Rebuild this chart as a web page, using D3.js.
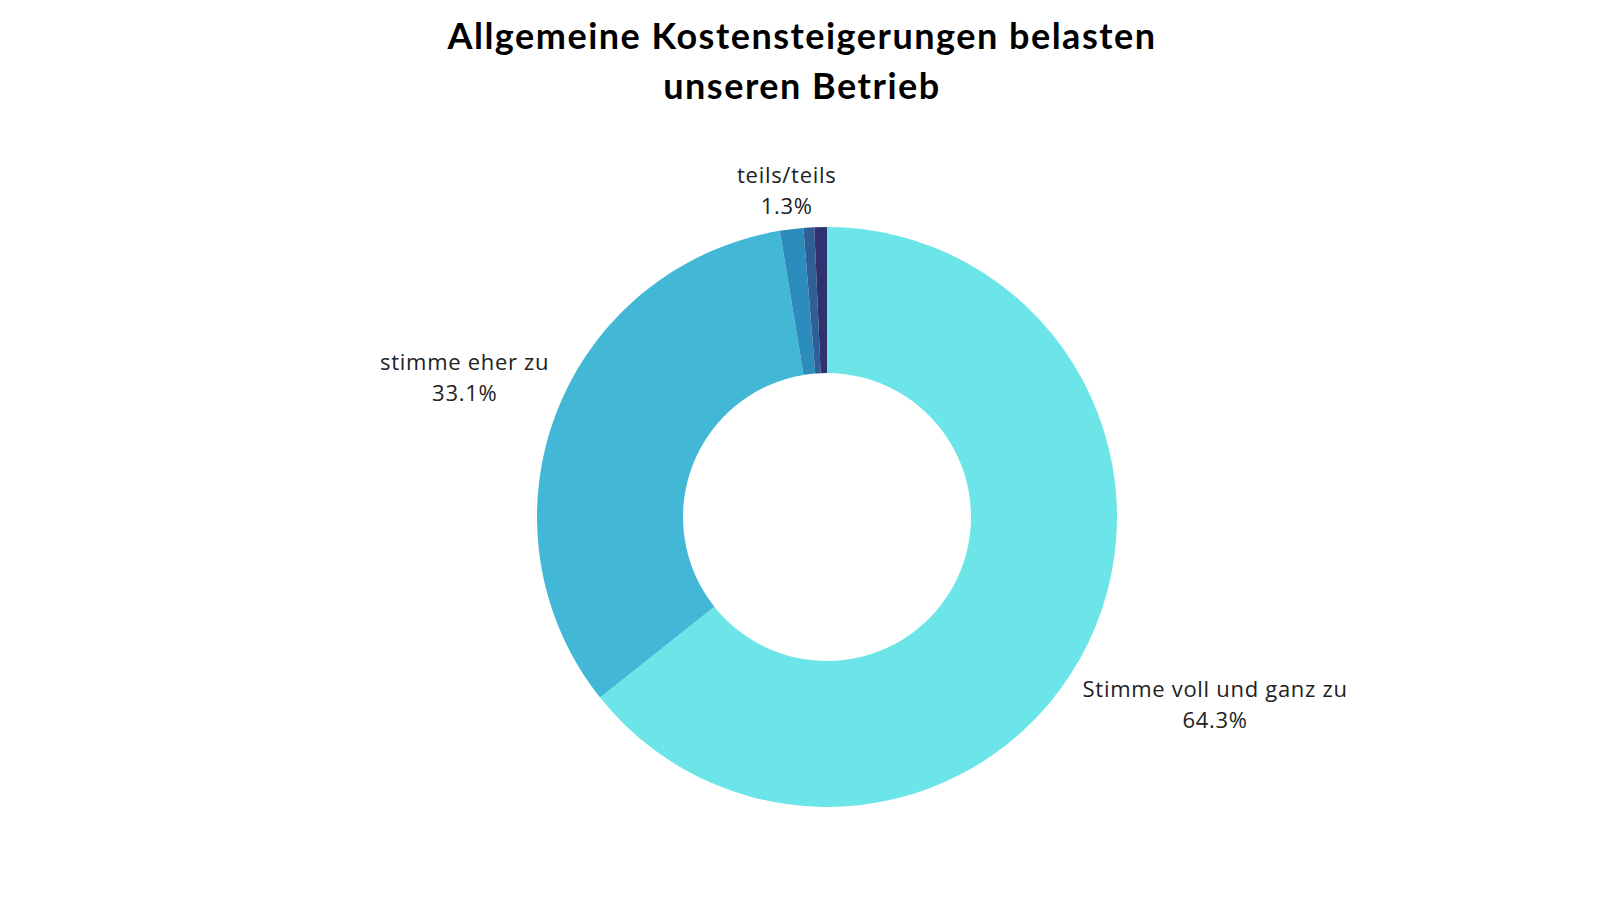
<!DOCTYPE html>
<html><head><meta charset="utf-8">
<script src="https://cdn.jsdelivr.net/npm/d3@7"></script>
<style>html,body{margin:0;padding:0;background:#fff;}svg{display:block;}</style>
</head><body>
<svg id="chart" width="1600" height="900"></svg>
<script>
const categories = ["Stimme voll und ganz zu", "stimme eher zu", "teils/teils", "stimme eher nicht zu", "stimme überhaupt nicht zu"];
const values = [64.3, 33.1, 1.3, 0.6, 0.7];
const labelShown = [true, true, true, false, false];
const colors = ["#6be5e8", "#42b8d6", "#2c8cbb", "#2e5f97", "#2e3370"];
const titleLines = ["Allgemeine Kostensteigerungen belasten", "unseren Betrieb"];

const svg = d3.select("#chart");
const cx = 827, cy = 517, rOuter = 290, rInner = 144;

svg.append("g").selectAll("text").data(titleLines).join("text")
  .attr("x", 802).attr("y", (d, i) => 49 + i * 50)
  .attr("text-anchor", "middle")
  .attr("font-family", "Lato, 'Open Sans', sans-serif")
  .attr("font-weight", "bold").attr("font-size", 36)
  .attr("letter-spacing", "1.5px").attr("fill", "#000")
  .text(d => d);

const data = categories.map((c, i) => ({ name: c, value: values[i], color: colors[i], show: labelShown[i] }));
const pie = d3.pie().value(d => d.value).sort(null);
const arcs = pie(data);
const arc = d3.arc().innerRadius(rInner).outerRadius(rOuter);

const g = svg.append("g").attr("transform", `translate(${cx},${cy})`);
g.selectAll("path").data(arcs).join("path")
  .attr("d", arc).attr("fill", d => d.data.color);

const fmt = d3.format(".1f");
const fs = 22, lineH = 31, gapX = 8, gapY = 9;
const lg = g.append("g");
arcs.filter(a => a.data.show).forEach(a => {
  const t = lg.append("text")
    .attr("font-family", "'Open Sans', sans-serif").attr("font-size", fs)
    .attr("letter-spacing", "0.7px")
    .attr("fill", "#222").attr("text-anchor", "middle");
  const s1 = t.append("tspan").attr("x", 0).attr("y", 0).text(a.data.name);
  const s2 = t.append("tspan").attr("x", 0).attr("y", lineH).text(fmt(a.data.value) + "%");
  const w = Math.max(s1.node().getComputedTextLength(), s2.node().getComputedTextLength());
  const top = -0.76 * fs, bottom = lineH;
  const hw = w / 2, hh = (bottom - top) / 2, boxCy = (bottom + top) / 2;
  const mid = (a.startAngle + a.endAngle) / 2;
  const sx = Math.sin(mid), sy = -Math.cos(mid);
  const r = rOuter + gapX * Math.abs(sx) + gapY * Math.abs(sy) + hw * Math.abs(sx) + hh * Math.abs(sy);
  t.attr("transform", `translate(${r * sx},${r * sy - boxCy})`);
});
</script>
</body></html>
